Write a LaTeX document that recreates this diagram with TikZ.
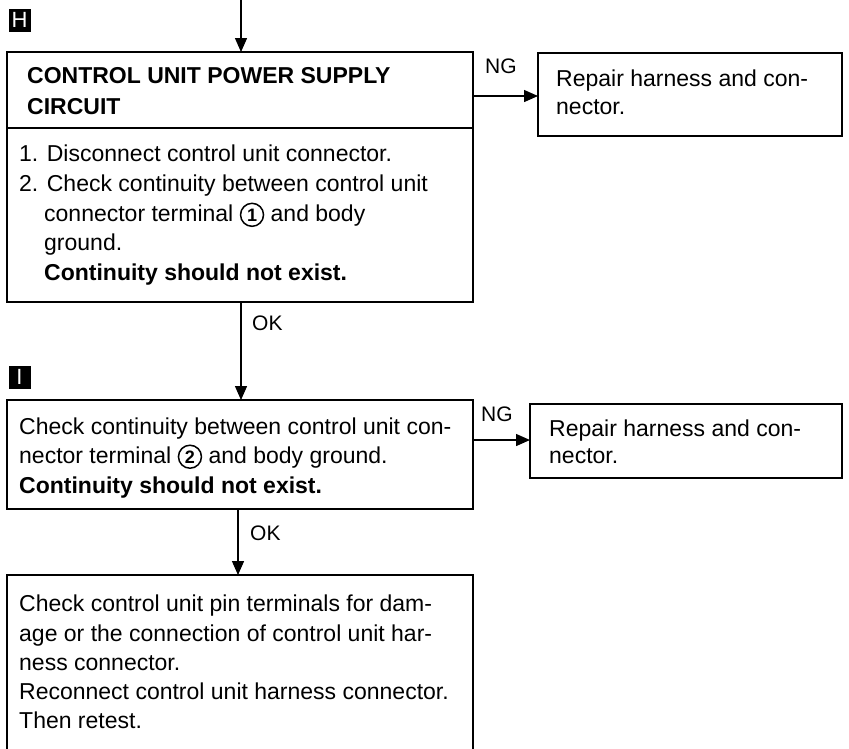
\documentclass[tikz,border=0pt]{standalone}
\usepackage{fontspec}
\setmainfont{Liberation Sans}
\usetikzlibrary{arrows.meta}
\newcommand\cnum[1]{\tikz[baseline=(cn.base)]\node[circle,draw,line width=1.5pt,inner sep=0pt,minimum size=23pt,font=\bfseries\fontsize{18}{18}\selectfont](cn){#1};}
\tikzset{
  boxline/.style={draw, line width=1.7pt, inner sep=0pt, outer sep=0pt, anchor=north west},
  conn/.style={line width=1.4pt, -{Triangle[length=14pt,width=12pt]}},
  txt/.style={anchor=base west, inner sep=0pt, font=\fontsize{23}{29.5}\selectfont},
  btxt/.style={txt, font=\bfseries\fontsize{23}{29.5}\selectfont},
  lbl/.style={anchor=base west, inner sep=0pt, font=\fontsize{21}{24}\selectfont},
  marker/.style={fill=black, text=white, minimum width=22pt, minimum height=23pt, inner sep=0pt, font=\fontsize{22}{22}\selectfont}
}
\begin{document}
\begin{tikzpicture}[x=1pt,y=-1pt]
\useasboundingbox (0,0) rectangle (849,748);
\clip (0,0) rectangle (849,748);
% markers
\node[marker] (mH) at (19.5,20) {H};
\node[marker] (mI) at (19.5,377) {I};
% boxes
\node[boxline, minimum width=466pt, minimum height=250pt] (b1) at (7,52) {};
\node[boxline, minimum width=304pt, minimum height=83pt] (r1) at (538,53) {};
\node[boxline, minimum width=466pt, minimum height=109pt] (b2) at (7,400) {};
\node[boxline, minimum width=312pt, minimum height=74pt] (r2) at (530,404) {};
\node[boxline, minimum width=466pt, minimum height=200pt] (b3) at (7,575) {};
\draw[line width=1.7pt] (b1.west |- 0,128) -- (b1.east |- 0,128);
% connectors
\coordinate (top) at (241,0);
\draw[conn] (top) -- (top |- b1.north);
\coordinate (ng1) at (473,96);
\draw[conn] (ng1) -- (ng1 -| r1.west);
\coordinate (ok1) at (241,302);
\draw[conn] (ok1) -- (ok1 |- b2.north);
\coordinate (ng2) at (473,440);
\draw[conn] (ng2) -- (ng2 -| r2.west);
\coordinate (ok2) at (238,509);
\draw[conn] (ok2) -- (ok2 |- b3.north);
% labels
\node[lbl] (lng1) at (485,73) {NG};
\node[lbl] (lok1) at (252,330) {OK};
\node[lbl] (lng2) at (481,421) {NG};
\node[lbl] (lok2) at (250,540) {OK};
% box 1 text
\node[btxt] (h1) at (27,83) {CONTROL UNIT POWER SUPPLY};
\node[btxt] (h2) at (27,114) {CIRCUIT};
\node[txt] (t11) at (19,161) {1. Disconnect control unit connector.};
\node[txt] (t12) at (19,191) {2. Check continuity between control unit};
\node[txt] (t13) at (44,221) {connector terminal \cnum{1} and body};
\node[txt] (t14) at (44,250) {ground.};
\node[btxt] (t15) at (44,280) {Continuity should not exist.};
% right box 1
\node[txt] (tr11) at (556,86) {Repair harness and con-};
\node[txt] (tr12) at (556,114) {nector.};
% box 2 text
\node[txt] (t21) at (19,434) {Check continuity between control unit con-};
\node[txt] (t22) at (19,463) {nector terminal \cnum{2} and body ground.};
\node[btxt] (t23) at (19,493) {Continuity should not exist.};
% right box 2
\node[txt] (tr21) at (549,436) {Repair harness and con-};
\node[txt] (tr22) at (549,463) {nector.};
% box 3 text
\node[txt] (t31) at (19,611) {Check control unit pin terminals for dam-};
\node[txt] (t32) at (19,641) {age or the connection of control unit har-};
\node[txt] (t33) at (19,670) {ness connector.};
\node[txt] (t34) at (19,699) {Reconnect control unit harness connector.};
\node[txt] (t35) at (19,728) {Then retest.};
\end{tikzpicture}
\end{document}
